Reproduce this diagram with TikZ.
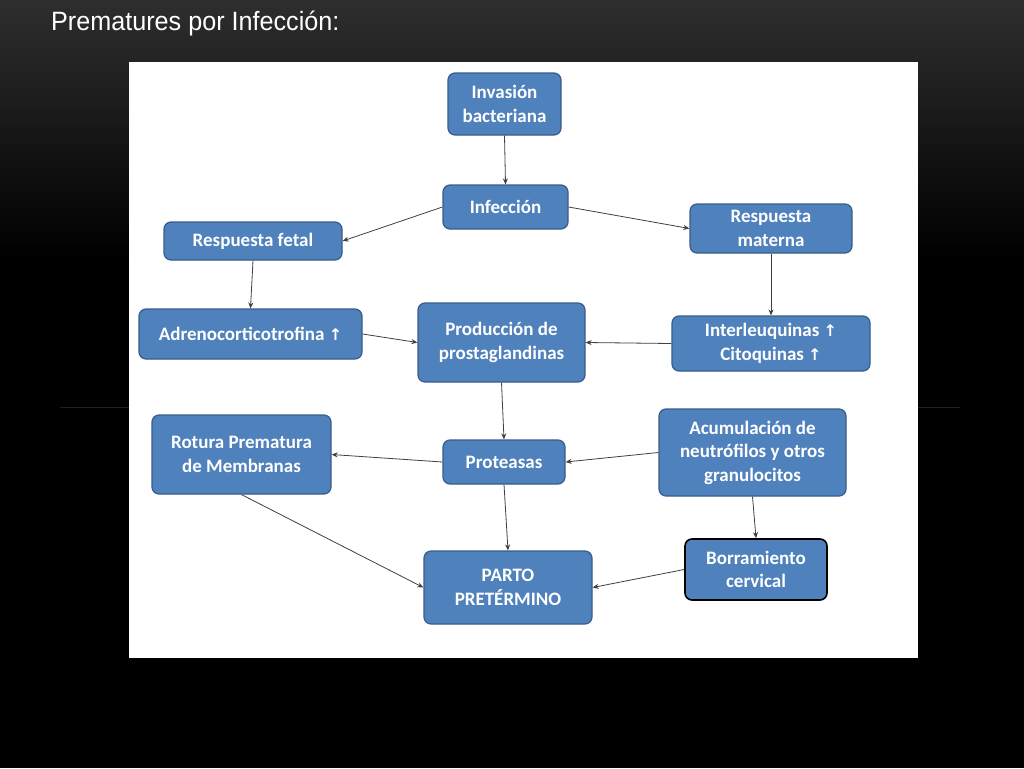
\documentclass[tikz,border=0pt]{standalone}
\usepackage{fontspec}
\setmainfont{Carlito}
\newfontfamily\titlefont{Liberation Sans}
\newfontfamily\symfont{DejaVu Sans}
\usetikzlibrary{arrows.meta}
\definecolor{boxblue}{HTML}{4F81BD}
\definecolor{boxedge}{HTML}{385D8A}
\newcommand{\up}{{\symfont\fontsize{16}{16}\selectfont ↑}}
\tikzset{
  box/.style={draw=boxedge, line width=1.2pt, fill=boxblue, rounded corners=7pt,
    text=white, font=\fontsize{19}{23.5}\selectfont\bfseries, align=center,
    inner sep=0pt},
  conn/.style={draw=black!75, line width=0.8pt, -{Stealth[length=6pt,width=5pt]}}
}
\begin{document}
\begin{tikzpicture}[x=1pt,y=-1pt]
\useasboundingbox (0,0) rectangle (1024,768);
\shade[top color=black!82, bottom color=black] (0,0) rectangle (1024,260);
\fill[black] (0,260) rectangle (1024,768);
\draw[black!88, line width=0.8pt] (60,407) -- (129,407);
\draw[black!88, line width=0.8pt] (918,407) -- (960,407);
\node[anchor=base west, text=white, inner sep=0pt] (title) at (51,31)
  {\scalebox{0.95}[1]{\titlefont\fontsize{26.5}{30}\selectfont Prematures por Infección:}};
\fill[white] (129,62) rectangle (918,658);

\node[box, minimum width=113pt, minimum height=62pt] (inv) at (504.5,104) {Invasión\\bacteriana};
\node[box, minimum width=125pt, minimum height=44pt] (inf) at (505.5,207) {Infección};
\node[box, minimum width=178pt, minimum height=38pt] (fet) at (253,241) {Respuesta fetal};
\node[box, minimum width=162pt, minimum height=49pt] (mat) at (771,228.5) {Respuesta\\materna};
\node[box, minimum width=223pt, minimum height=50pt] (adr) at (250.5,334) {Adrenocorticotrofina \up};
\node[box, minimum width=167pt, minimum height=79pt] (pro) at (501.5,342.5) {Producción de\\prostaglandinas};
\node[box, minimum width=198pt, minimum height=55pt] (int) at (771,343.5) {Interleuquinas \up\\Citoquinas \up};
\node[box, minimum width=179pt, minimum height=79pt] (rot) at (241.5,454.5) {Rotura Prematura\\de Membranas};
\node[box, minimum width=122pt, minimum height=44pt] (prt) at (504,462) {Proteasas};
\node[box, minimum width=187pt, minimum height=87pt] (acu) at (752.5,452.5) {Acumulación de\\neutrófilos y otros\\granulocitos};
\node[box, minimum width=168pt, minimum height=73pt] (par) at (508,587.5) {PARTO\\PRETÉRMINO};
\node[box, draw=black, line width=1.6pt, minimum width=142pt, minimum height=61pt] (bor) at (756,569.5) {Borramiento\\cervical};

\draw[conn] (inv.south) -- (inf.north);
\draw[conn] (inf.west) -- (fet.east);
\draw[conn] (inf.east) -- (mat.west);
\draw[conn] (fet.south) -- (adr.north);
\draw[conn] (adr.east) -- (pro.west);
\draw[conn] (int.west) -- (pro.east);
\draw[conn] (mat.south) -- (int.north);
\draw[conn] (pro.south) -- (prt.north);
\draw[conn] (prt.west) -- (rot.east);
\draw[conn] (acu.west) -- (prt.east);
\draw[conn] (prt.south) -- (par.north);
\draw[conn] (rot.south) -- (par.west);
\draw[conn] (acu.south) -- (bor.north);
\draw[conn] (bor.west) -- (par.east);
\end{tikzpicture}
\end{document}
